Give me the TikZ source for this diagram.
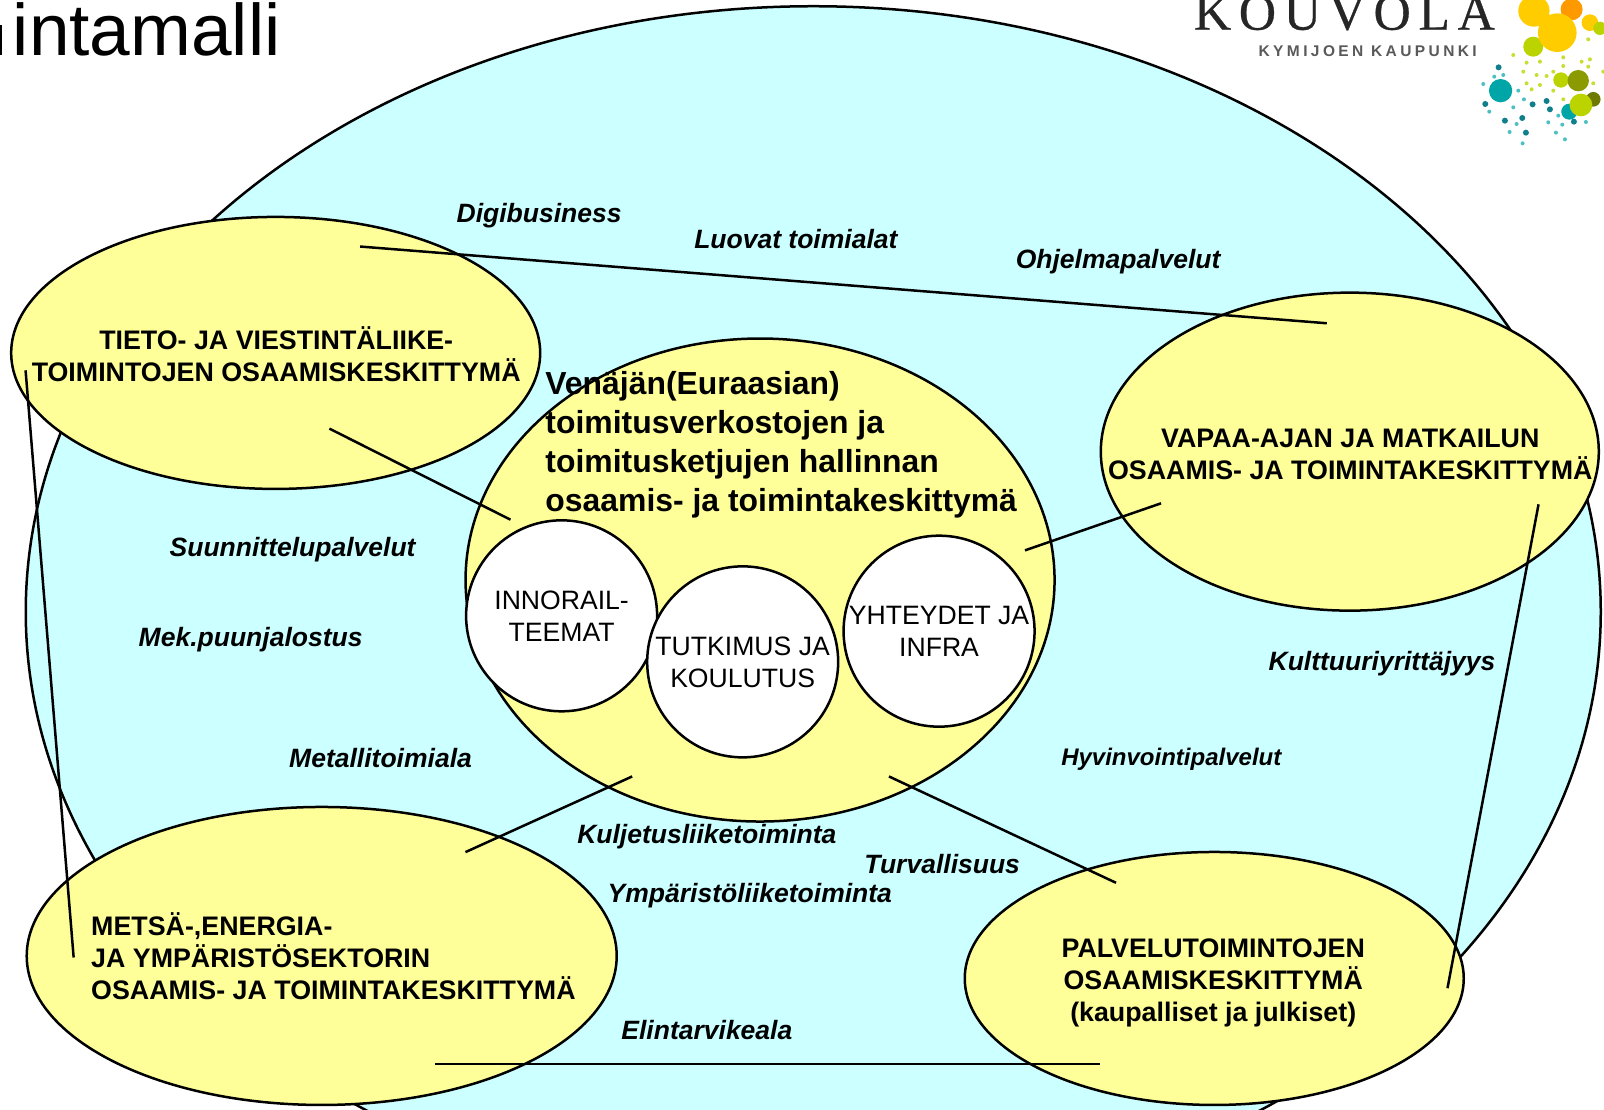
\documentclass[tikz,border=0pt]{standalone}
\usepackage{fontspec}
\setmainfont{Liberation Sans}
\newfontfamily\logoserif[LetterSpace=15,FakeBold=0.6]{Liberation Serif}
\newfontfamily\logosans[LetterSpace=22]{Liberation Sans}
\usetikzlibrary{shapes.geometric}
\definecolor{pale}{HTML}{CCFFFF}
\definecolor{butter}{HTML}{FFFF99}
\definecolor{lyellow}{HTML}{FFCC00}
\definecolor{lorange}{HTML}{FF9900}
\definecolor{llime}{HTML}{BBD400}
\definecolor{lteal}{HTML}{00A5A8}
\definecolor{lolive}{HTML}{8A9A00}
\definecolor{ldark}{HTML}{0F7F8C}
\tikzset{
  blob/.style={ellipse,draw=black,line width=2.5pt,fill=butter,inner sep=0pt},
  disc/.style={circle,draw=black,line width=2.5pt,fill=white,inner sep=0pt,minimum size=191pt,
    align=center,font=\fontsize{26.6}{32}\selectfont},
  hub/.style={align=center,font=\bfseries\fontsize{26.8}{32}\selectfont,inner sep=0pt},
  sector/.style={font=\bfseries\itshape\fontsize{26.5}{31}\selectfont,inner sep=0pt},
  link/.style={draw=black,line width=2.5pt},
}
\begin{document}
\begin{tikzpicture}[x=1.02296pt,y=-1.02296pt]
\useasboundingbox (0,0) rectangle (1568,1085);
\clip (0,0) rectangle (1568,1085);
% outer field
\node[ellipse,draw=black,line width=2.5pt,fill=pale,inner sep=0pt,minimum width=1575pt,minimum height=1211pt] (field) at (795,598) {};
% title
\fill (0,24) rectangle (2,54);
\node[anchor=base east,inner sep=0pt,font=\fontsize{73}{80}\selectfont] (title) at (274.5,54) {intamalli};
% logo
\node[anchor=base west,inner sep=0pt,font=\logoserif\fontsize{51.5}{52}\selectfont,text=black!85] (kouvola) at (1167,29) {KOUVOLA};
\node[anchor=center,inner sep=0pt,font=\logosans\bfseries\fontsize{15.5}{16}\selectfont,text=black!65] (kymi) at (1337,50) {KYMIJOEN KAUPUNKI};
\begin{scope}[shift={(1124.15,0)},x=0.3333pt,y=-0.3333pt]
  \fill[llime] (1150,140) circle (30);
  \fill[lorange] (1265,28) circle (33);
  \fill[lyellow] (1152,33) circle (47);
  \fill[lyellow] (1320,68) circle (25);
  \fill[lyellow] (1222,98) circle (58);
  \fill[llime] (1350,85) circle (20);
  \fill[llime] (1233,240) circle (23);
  \fill[lolive] (1285,242) circle (32);
  \fill[lolive!80!black] (1330,298) circle (22);
  \fill[lteal] (1258,335) circle (24);
  \fill[llime] (1293,315) circle (34);
  \fill[lteal] (1052,272) circle (35);
  \foreach \x/\y in {1046/202,1006/312,1148/313,1117/354,1065/362,1128/398,1190/303,1200/328,1272/365}
    \fill[ldark] (\x,\y) circle (9);
  \foreach \x/\y in {1018/335,1090/322,1105/272,1122/298,1079/396,1100/372,1118/430,1195/367,1237/374,1218/398,1245/418,1225/347,1308/366,1060/225,1033/230,1000/252}
    \fill[lteal!70] (\x,\y) circle (6);
  \foreach \x/\y in {1130/188,1090/165,1170/185,1120/215,1160/225,1190/228,1240/172,1240/198,1295/185,1320/178,1315/200,1130/250,1145/268,1170/255,1210/215,1210/272,1240/298,1315/118,1360/215,1330/250}
    \fill[llime!80] (\x,\y) circle (6);
\end{scope}
% centre
\node[blob,minimum width=589pt,minimum height=483pt] (centre) at (743,567) {};
\node[hub,font=\bfseries\fontsize{31.9}{39}\selectfont,align=left,anchor=north west] (centretext) at (533,362.5) {Venäjän(Euraasian)\\toimitusverkostojen ja\\toimitusketjujen hallinnan\\osaamis- ja toimintakeskittymä};
% clusters
\node[blob,minimum width=529pt,minimum height=272pt] (tl) at (269.5,345) {};
\node[blob,minimum width=498pt,minimum height=318pt] (tr) at (1319.5,441.5) {};
\node[blob,minimum width=590pt,minimum height=298pt] (bl) at (314.5,934.5) {};
\node[blob,minimum width=499pt,minimum height=253pt] (br) at (1187,956.5) {};
\node[hub,anchor=center] (tltext) at (270,346) {TIETO- JA VIESTINTÄLIIKE-\\TOIMINTOJEN OSAAMISKESKITTYMÄ};
\node[hub,anchor=center] (trtext) at (1320,444) {VAPAA-AJAN JA MATKAILUN\\OSAAMIS- JA TOIMINTAKESKITTYMÄ};
\node[hub,align=left,anchor=north west] (bltext) at (89,892) {METSÄ-,ENERGIA-\\JA YMPÄRISTÖSEKTORIN\\OSAAMIS- JA TOIMINTAKESKITTYMÄ};
\node[hub,anchor=center] (brtext) at (1186,960.5) {PALVELUTOIMINTOJEN\\OSAAMISKESKITTYMÄ\\(kaupalliset ja julkiset)};
% discs
\node[disc] (d1) at (549,602) {INNORAIL-\\TEEMAT};
\node[disc] (d2) at (726,647) {TUTKIMUS JA\\KOULUTUS};
\node[disc] (d3) at (918,617) {YHTEYDET JA\\INFRA};
% sectors
\node[sector] (s1) at (527,211) {Digibusiness};
\node[sector] (s2) at (778,234) {Luovat toimialat};
\node[sector] (s3) at (1093,256) {Ohjelmapalvelut};
\node[sector] (s4) at (286,537) {Suunnittelupalvelut};
\node[sector] (s5) at (245,625) {Mek.puunjalostus};
\node[sector] (s6) at (372,741) {Metallitoimiala};
\node[sector] (s7) at (1351,649) {Kulttuuriyrittäjyys};
\node[sector,font=\bfseries\itshape\fontsize{24}{29}\selectfont] (s8) at (1145,742) {Hyvinvointipalvelut};
\node[sector] (s9) at (691,818) {Kuljetusliiketoiminta};
\node[sector] (s10) at (921,845) {Turvallisuus};
\node[sector] (s11) at (733,876) {Ympäristöliiketoiminta};
\node[sector] (s12) at (691,1007) {Elintarvikeala};
% link ends
\coordinate (a1) at (352,241); \coordinate (a2) at (1297,316);
\coordinate (b1) at (322,419); \coordinate (b2) at (499,508);
\coordinate (c1) at (1002,538); \coordinate (c2) at (1135,492);
\coordinate (e1) at (455,833); \coordinate (e2) at (618,759);
\coordinate (f1) at (869,759); \coordinate (f2) at (1091,863);
\coordinate (g1) at (425,1040); \coordinate (g2) at (1075,1040);
\coordinate (h1) at (1504,493); \coordinate (h2) at (1415,966);
\coordinate (i1) at (25,362); \coordinate (i2) at (72,936);
\foreach \p/\q in {a1/a2,b1/b2,c1/c2,e1/e2,f1/f2,g1/g2,h1/h2,i1/i2}
  \draw[link] (\p) -- (\q);
\end{tikzpicture}
\end{document}
